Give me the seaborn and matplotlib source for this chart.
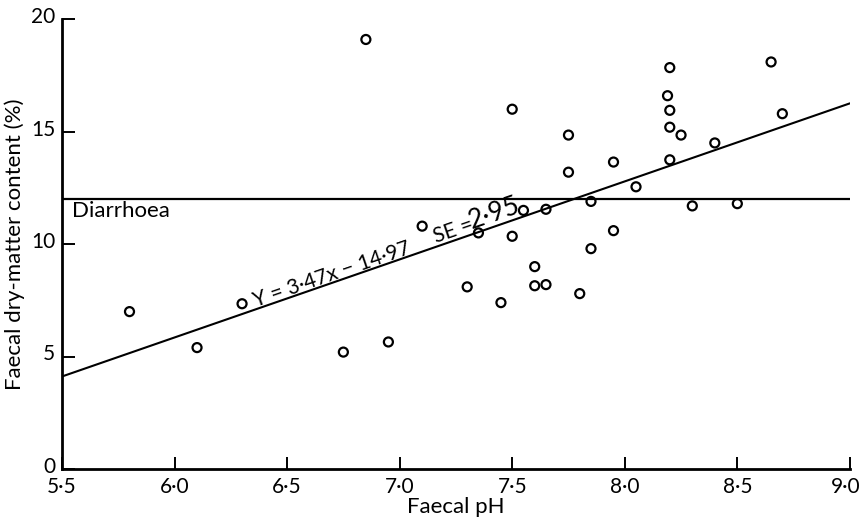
# Faecal dry-matter content vs faecal pH
import numpy as np
import pandas as pd
import matplotlib
matplotlib.use("Agg")
import matplotlib.pyplot as plt
import matplotlib.transforms as mtransforms
import seaborn as sns

# ---------------------------
# Data
# ---------------------------
faecal_ph = [5.80, 6.10, 6.30, 6.75, 6.95, 7.30, 7.45, 7.60, 7.60, 7.65,
             7.80, 6.85, 7.50, 7.75, 7.75, 7.10, 7.35, 7.50, 7.55, 7.65,
             8.20, 8.19, 8.20, 8.20, 8.25, 8.20, 8.40, 8.65, 8.70, 7.95,
             8.05, 7.85, 8.30, 8.50, 7.95, 7.85]
dry_matter = [7.0, 5.4, 7.35, 5.2, 5.65, 8.1, 7.4, 9.0, 8.15, 8.2,
              7.8, 19.1, 16.0, 14.85, 13.2, 10.8, 10.5, 10.35, 11.5, 11.55,
              17.85, 16.6, 15.95, 15.2, 14.85, 13.75, 14.5, 18.1, 15.8, 13.65,
              12.55, 11.9, 11.7, 11.8, 10.6, 9.8]

slope = 3.47
intercept = -14.97
diarrhoea_level = 12

x_ticks = [5.5, 6.0, 6.5, 7.0, 7.5, 8.0, 8.5, 9.0]
x_tick_labels = ['5·5', '6·0', '6·5', '7·0', '7·5', '8·0', '8·5', '9·0']
y_ticks = [0, 5, 10, 15, 20]

df = pd.DataFrame({'ph': faecal_ph, 'dm': dry_matter})
fit = pd.DataFrame({'ph': [5.5, 9.0]})
fit['dm'] = slope * fit['ph'] + intercept

# ---------------------------
# Plot
# ---------------------------
sns.set_style('ticks')
plt.rcParams['font.family'] = ['Lato', 'DejaVu Sans']
plt.rcParams['text.color'] = 'black'
plt.rcParams['axes.labelcolor'] = 'black'

fig = plt.figure(figsize=(8.63, 5.2), dpi=100)
ax = fig.add_axes([0.0718, 0.098, 0.913, 0.865])

sns.scatterplot(data=df, x='ph', y='dm', ax=ax, marker='o', s=42,
                facecolor='none', edgecolor='black', linewidth=1.6, zorder=3)
sns.lineplot(data=fit, x='ph', y='dm', ax=ax, color='black', linewidth=1.5)
ax.axhline(diarrhoea_level, color='black', linewidth=1.6)

ax.set_xlim(5.5, 9.0)
ax.set_ylim(0, 20)
ax.set_xticks(x_ticks)
ax.set_xticklabels(x_tick_labels)
ax.set_yticks(y_ticks)
ax.tick_params(direction='in', length=9, width=1.4, labelsize=15, colors='black')
ax.tick_params(axis='x', pad=6)
ax.tick_params(axis='y', pad=5)
sns.despine(ax=ax)
for sp in ['left', 'bottom']:
    ax.spines[sp].set_linewidth(2)
    ax.spines[sp].set_color('black')

# nudge y labels up a little so "0" clears "5·5", and keep "9·0" inside
up = mtransforms.ScaledTranslation(0, 3 / 72, fig.dpi_scale_trans)
for lbl in ax.get_yticklabels():
    lbl.set_transform(lbl.get_transform() + up)
left = mtransforms.ScaledTranslation(-3 / 72, 0, fig.dpi_scale_trans)
last = ax.get_xticklabels()[-1]
last.set_transform(last.get_transform() + left)

ax.set_xlabel('Faecal pH', fontsize=16, labelpad=0)
ax.set_ylabel('Faecal dry-matter content (%)', fontsize=16, labelpad=4)

ax.text(5.544, 11.9, 'Diarrhoea', fontsize=16, ha='left', va='top')
ax.text(6.36, slope * 6.36 + intercept + 0.1, 'Y = 3·47x − 14·97', fontsize=15,
        rotation=19, rotation_mode='anchor', ha='left', va='baseline')
ax.text(7.16, slope * 7.16 + intercept + 0.18, 'SE =', fontsize=15,
        rotation=19, rotation_mode='anchor', ha='left', va='baseline')
ax.text(7.32, slope * 7.32 + intercept + 0.25, '2·95', fontsize=19,
        rotation=19, rotation_mode='anchor', ha='left', va='baseline')

plt.savefig('out.png', dpi=100)
